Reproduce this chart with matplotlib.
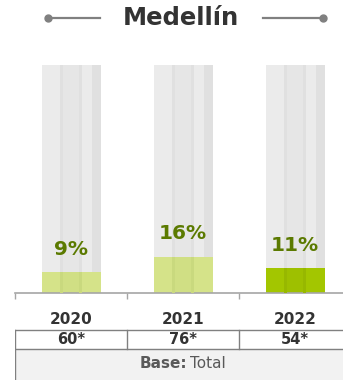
import matplotlib.pyplot as plt
from matplotlib.patches import Rectangle
from matplotlib.lines import Line2D

# data
years = ["2020", "2021", "2022"]
values = [9, 16, 11]
labels = ["9%", "16%", "11%"]
bases = ["60*", "76*", "54*"]
fill_colors = ["#d5e389", "#d5e389", "#a3c600"]
stripe_colors = ["#c9d97e", "#c9d97e", "#97b800"]

W, H = 343, 380
fig = plt.figure(figsize=(W / 100, H / 100), dpi=100)


def fx(px):
    return px / W


def fy(py):
    return 1 - py / H


# ---- title ----
fig.text(fx(181), fy(18), "Medellín", ha="center", va="center",
         fontsize=17.5, fontweight="bold", color="#333333")
for x0, x1, xd in [(48, 100, 48), (263, 323, 323)]:
    fig.add_artist(Line2D([fx(x0), fx(x1)], [fy(18), fy(18)],
                          color="#808080", lw=1.6))
    fig.add_artist(Line2D([fx(xd)], [fy(18)], marker="o", ms=5,
                          color="#808080"))

# ---- bars ----
spacing = 112.0
ax = fig.add_axes([fx(15), fy(293), fx(328), 228 / H])
ax.set_xlim(-0.5, -0.5 + 328 / spacing)
ax.set_ylim(0, 100)
x = list(range(len(years)))
bw = 59 / spacing

# background "tube"
ax.bar(x, [100] * 3, width=bw, color="#ebebeb", zorder=1)
seg = bw / 3
for xi in x:
    left = xi - bw / 2
    ax.bar(left + 1.5 * seg, 100, width=seg, color="#e6e6e6", zorder=1.5)
    ax.bar(left + seg, 100, width=0.025, color="#e0e0e0", zorder=1.6)
    ax.bar(left + 2 * seg, 100, width=0.025, color="#e0e0e0", zorder=1.6)
    ax.bar(left + bw - 0.04, 100, width=0.08, color="#e0e0e0", zorder=1.6)

ax.bar(x, values, width=bw, color=fill_colors, zorder=2)
for xi, v, sc in zip(x, values, stripe_colors):
    left = xi - bw / 2
    ax.bar(left + 1.5 * seg, v, width=seg, color=sc, alpha=0.4, zorder=2.5)
    ax.bar(left + seg, v, width=0.025, color=sc, zorder=2.6)
    ax.bar(left + 2 * seg, v, width=0.025, color=sc, zorder=2.6)

for xi, v, lab in zip(x, values, labels):
    ax.text(xi, v + 10, lab, ha="center", va="center", fontsize=14.5,
            fontweight="bold", color="#5b7a00", zorder=3)

for s in ["top", "right", "left"]:
    ax.spines[s].set_visible(False)
ax.spines["bottom"].set_color("#a6a6a6")
ax.spines["bottom"].set_linewidth(1.2)
ax.set_yticks([])
ax.set_xticks([-0.5, 0.5, 1.5])
ax.set_xticklabels([])
ax.tick_params(axis="x", length=4, color="#a6a6a6", width=1)

# ---- table under the bars ----
tax = fig.add_axes([fx(15), 0, fx(328), fy(300)])
tax.set_xlim(-0.5, -0.5 + 328 / spacing)
tax.set_ylim(380, 300)
tax.axis("off")

for xi, yr, b in zip(x, years, bases):
    tax.text(xi, 319, yr, ha="center", va="center", fontsize=11,
             fontweight="bold", color="#333333")
    tax.text(xi, 339.5, b, ha="center", va="center", fontsize=10.5,
             fontweight="bold", color="#333333")

right = -0.5 + 328 / spacing
tax.add_patch(Rectangle((-0.5, 349), right + 0.5, 31, color="#f2f2f2",
                        zorder=0))
for yl in [330, 349]:
    tax.plot([-0.5, right], [yl, yl], color="#808080", lw=1)
for xl in [-0.5, 0.5, 1.5]:
    y1 = 380 if xl == -0.5 else 349
    tax.plot([xl, xl], [330, y1], color="#808080", lw=1)

tax.text(1.035, 364, "Base:", ha="right", va="center", fontsize=11,
         fontweight="bold", color="#595959")
tax.text(1.06, 364, "Total", ha="left", va="center", fontsize=11,
         color="#595959")

fig.savefig("out.png", dpi=100)
